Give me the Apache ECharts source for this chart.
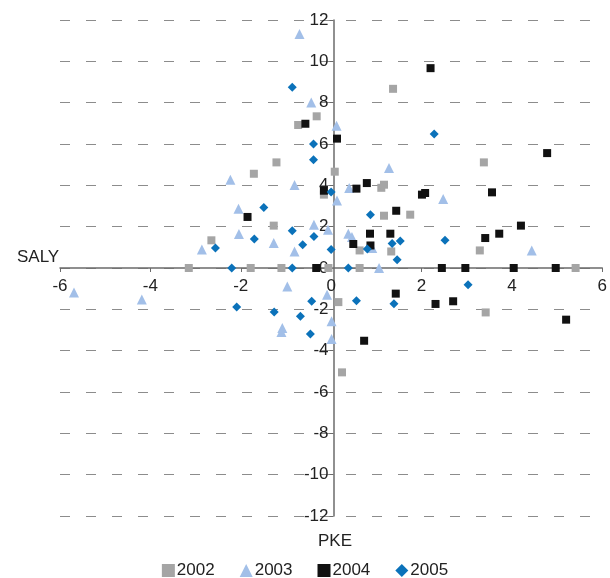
<!DOCTYPE html>
<html>
<head>
<meta charset="utf-8">
<script src="https://cdn.jsdelivr.net/npm/echarts@6/dist/echarts.min.js"></script>
<style>html,body{margin:0;padding:0;background:#fff}#c{width:610px;height:578px}</style>
</head>
<body>
<div id="c"></div>
<script>
const seriesNames = ['2002', '2003', '2004', '2005'];
const xTicks = [-6, -4, -2, 0, 2, 4, 6];
const yTicks = [-12, -10, -8, -6, -4, -2, 0, 2, 4, 6, 8, 10, 12];
const data2002 = [[-3.15,0],[-2.65,1.34],[-1.71,4.56],[-1.78,0],[-1.21,5.11],[-1.27,2.05],[-1.10,0],[-0.73,6.92],[-0.32,7.34],[-0.16,3.55],[-0.06,0],[0.08,4.66],[1.37,8.67],[1.11,3.88],[1.17,4.03],[1.17,2.53],[1.75,2.58],[0.63,0.85],[0.63,0],[1.33,0.80],[0.16,-1.65],[0.24,-5.05],[3.38,5.11],[3.29,0.85],[5.41,0],[3.42,-2.15]];
const data2003 = [[-0.70,11.32],[-0.44,8.01],[0.12,6.88],[-2.23,4.27],[-0.81,4.02],[-2.05,2.87],[-2.04,1.64],[-1.27,1.21],[-2.86,0.89],[-0.81,0.80],[-0.38,2.09],[-0.07,1.85],[0.13,3.27],[0.40,3.87],[0.38,1.66],[0.46,1.50],[0.91,0.97],[1.28,4.84],[1.06,0],[2.48,3.34],[4.44,0.85],[-5.69,-1.18],[-4.19,-1.53],[-0.97,-0.89],[-1.08,-2.9],[-1.10,-3.1],[-0.09,-1.29],[0.01,-2.58],[0.01,-3.44]];
const data2004 = [[-0.57,6.98],[-0.16,3.74],[-1.85,2.47],[-0.33,0],[0.13,6.26],[2.20,9.67],[0.56,3.84],[0.79,4.11],[1.44,2.77],[2.01,3.55],[2.08,3.63],[0.49,1.16],[0.86,1.66],[0.87,1.09],[1.31,1.66],[2.45,0],[2.97,0],[4.78,5.56],[3.56,3.66],[4.20,2.05],[3.72,1.66],[3.41,1.45],[4.04,0],[4.97,0],[1.43,-1.24],[2.31,-1.74],[2.70,-1.61],[0.73,-3.52],[5.20,-2.50]];
const data2005 = [[-0.86,8.74],[-0.39,6.00],[-0.39,5.24],[0,3.68],[-1.49,2.93],[-2.56,0.97],[-1.70,1.40],[-0.86,1.80],[-0.38,1.53],[-0.63,1.13],[0,0.89],[-2.20,0],[-0.86,0],[2.28,6.48],[0.87,2.58],[0.80,0.92],[1.35,1.18],[1.53,1.31],[1.46,0.40],[2.52,1.34],[0.38,0],[-2.09,-1.89],[-1.26,-2.13],[-0.68,-2.34],[-0.43,-1.61],[-0.46,-3.19],[0.56,-1.58],[1.39,-1.73],[3.03,-0.81]];
const xAxisTitle = 'PKE';
const yAxisTitle = 'SALY';

const FONT = '"Liberation Sans", Arial, sans-serif';
const W = 610, H = 578;
const G = {left: 60, right: 3, top: 20, bottom: 62};
const gw = W - G.left - G.right, gh = H - G.top - G.bottom;
const xMin = xTicks[0], xMax = xTicks[xTicks.length - 1];
const yMin = yTicks[0], yMax = yTicks[yTicks.length - 1];
// shift axes inward so they cross at zero (line, ticks and labels together)
const xAxisOffset = -gh * (0 - yMin) / (yMax - yMin);
const yAxisOffset = -gw * (0 - xMin) / (xMax - xMin);

const chart = echarts.init(document.getElementById('c'), null, {renderer: 'canvas'});
const mk = (name, data, symbol, size, color) => ({
  name, type: 'scatter', data, symbol, symbolSize: size,
  itemStyle: {color, opacity: 1}, emphasis: {disabled: true}
});
chart.setOption({
  animation: false,
  textStyle: {fontFamily: FONT},
  grid: Object.assign({containLabel: false}, G),
  xAxis: {
    type: 'value', min: xMin, max: xMax, interval: 2, position: 'bottom', offset: xAxisOffset,
    axisLine: {onZero: false, lineStyle: {color: '#6b6b6b', width: 1.5}},
    axisTick: {show: true, inside: false, length: 4, lineStyle: {color: '#6b6b6b'}},
    axisLabel: {fontSize: 17, color: '#222', margin: 10, fontFamily: FONT, showMaxLabel: true, showMinLabel: true},
    splitLine: {show: false}
  },
  yAxis: {
    type: 'value', min: yMin, max: yMax, interval: 2, position: 'left', offset: yAxisOffset,
    axisLine: {onZero: false, lineStyle: {color: '#6b6b6b', width: 1.5}},
    axisTick: {show: true, length: 4, lineStyle: {color: '#6b6b6b'}},
    axisLabel: {fontSize: 17, color: '#222', margin: 5, fontFamily: FONT},
    splitLine: {show: true, lineStyle: {color: '#8c8c8c', width: 1, type: [10, 16]}}
  },
  legend: {
    bottom: -6, left: 'center', itemGap: 25, itemWidth: 13, itemHeight: 13,
    textStyle: {fontSize: 17, color: '#222', fontFamily: FONT, padding: [0, 0, 0, -3]},
    data: [
      {name: seriesNames[0], icon: 'rect'},
      {name: seriesNames[1], icon: 'triangle'},
      {name: seriesNames[2], icon: 'rect'},
      {name: seriesNames[3], icon: 'diamond'}
    ]
  },
  graphic: [
    {type: 'text', left: 17, top: 249, style: {text: yAxisTitle, font: '17px ' + FONT, fill: '#222'}},
    {type: 'text', left: 318, top: 533, style: {text: xAxisTitle, font: '17px ' + FONT, fill: '#222'}}
  ],
  series: [
    mk(seriesNames[0], data2002, 'rect', 8, '#a5a5a5'),
    mk(seriesNames[1], data2003, 'triangle', 10, '#a2bfe8'),
    mk(seriesNames[2], data2004, 'rect', 8, '#111111'),
    mk(seriesNames[3], data2005, 'diamond', 9, '#0b72ba')
  ]
});
</script>
</body>
</html>
